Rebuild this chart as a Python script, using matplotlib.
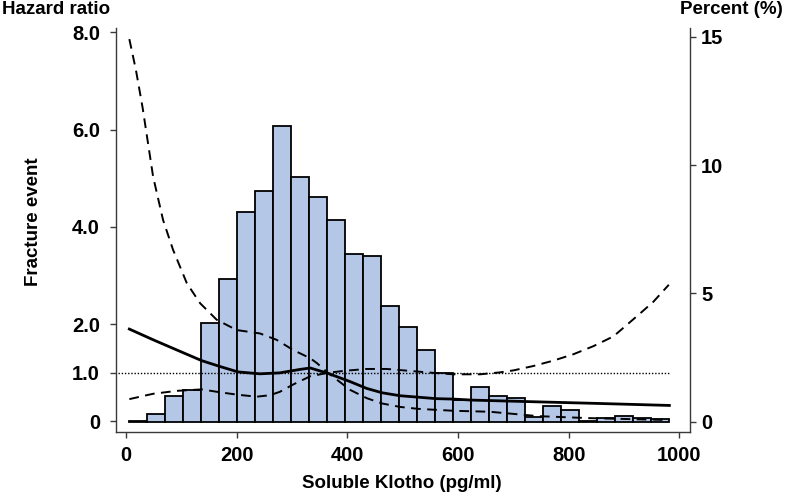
import numpy as np
import matplotlib
matplotlib.use("Agg")
import matplotlib.pyplot as plt

# --- histogram of soluble Klotho (percent per bin) ---
bin_lo, bin_hi, n_bins = 6.0, 981.4, 30
pct = [0.04, 0.29, 1.01, 1.23, 3.86, 5.55, 8.17, 9.00, 11.52, 9.54,
       8.74, 7.85, 6.53, 6.47, 4.50, 3.69, 2.80, 1.90, 0.85, 1.34,
       1.01, 0.93, 0.20, 0.60, 0.46, 0.04, 0.16, 0.21, 0.13, 0.12]

# --- hazard ratio spline (solid) ---
hr_x = [6, 49, 98, 137, 170, 202, 242, 278, 314, 333, 365, 405, 435, 463,
        495, 528, 560, 593, 625, 658, 723, 857, 982]
hr_y = [1.90, 1.68, 1.44, 1.25, 1.13, 1.02, 0.98, 1.00, 1.07, 1.10, 0.99,
        0.82, 0.68, 0.59, 0.53, 0.50, 0.47, 0.46, 0.44, 0.43, 0.41, 0.37, 0.33]

# --- 95% CI curve that starts high (dashed) ---
ci_a_x = [6, 18, 30, 49, 67, 85, 110, 134, 164, 200, 242, 272, 302, 333, 345,
          365, 405, 435, 463, 495, 528, 560, 593, 658, 745, 835, 981]
ci_a_y = [7.86, 7.22, 6.45, 5.03, 4.14, 3.53, 2.84, 2.43, 2.09, 1.88, 1.81,
          1.68, 1.47, 1.30, 1.20, 1.00, 0.65, 0.48, 0.37, 0.30, 0.26, 0.24,
          0.22, 0.20, 0.11, 0.07, 0.03]

# --- 95% CI curve that starts low (dashed) ---
ci_b_x = [6, 49, 92, 137, 170, 202, 236, 260, 278, 302, 333, 365, 393, 435,
          471, 513, 555, 592, 640, 676, 700, 736, 772, 808, 845, 881, 929,
          953, 981]
ci_b_y = [0.46, 0.57, 0.63, 0.66, 0.60, 0.55, 0.51, 0.54, 0.61, 0.76, 0.93,
          1.00, 1.04, 1.08, 1.08, 1.04, 1.00, 0.97, 0.97, 1.01, 1.05, 1.14,
          1.25, 1.38, 1.55, 1.75, 2.22, 2.46, 2.81]

ref_hr = 1.0
ref_span = [-14, 981]

plt.rcParams['font.family'] = ['Liberation Sans', 'DejaVu Sans']
plt.rcParams['font.weight'] = 'bold'
fs_tick = 14.5
fs_lab = 13.5
spine_col = '#3a3a3a'

fig = plt.figure(figsize=(7.85, 4.97), dpi=100)
W, H = 785, 497
left, right, top, bottom = 116, 690, 28.5, 432.3
ax = fig.add_axes([left / W, 1 - bottom / H, (right - left) / W, (bottom - top) / H])

# histogram on the percent axis (drawn on the right)
edges = np.linspace(bin_lo, bin_hi, n_bins + 1)
ax.bar(edges[:-1], pct, width=np.diff(edges), align='edge', color='#B4C7E7',
       edgecolor='black', linewidth=1.3, zorder=1)
ax.set_xlim(-18.1, 1019.3)
ax.set_ylim(-0.413, 15.32)
ax.set_xticks([0, 200, 400, 600, 800, 1000])
ax.spines['top'].set_visible(False)
for s in ['left', 'right', 'bottom']:
    ax.spines[s].set_color(spine_col)
    ax.spines[s].set_linewidth(1.0)

# hazard ratio curves on the left axis
ax2 = ax.twinx()
ax2.yaxis.tick_left()
ax.yaxis.tick_right()
ax.set_yticks([0, 5, 10, 15])
ax.tick_params(axis='y', direction='out', length=4.5, width=1.0, color=spine_col,
               labelsize=fs_tick, pad=3.5)
ax.tick_params(axis='x', direction='out', length=4.5, width=1.0, color=spine_col,
               labelsize=fs_tick, pad=5.5)

ax2.set_ylim(-0.222, 8.078)
ax2.set_yticks([0, 1, 2, 4, 6, 8])
ax2.set_yticklabels(['0', '1.0', '2.0', '4.0', '6.0', '8.0'])
for s in ax2.spines.values():
    s.set_visible(False)
ax2.tick_params(axis='y', direction='out', length=4.5, width=1.0, color=spine_col,
                labelsize=fs_tick, pad=7)

ax2.plot(ref_span, [ref_hr, ref_hr], color='black', lw=1.0, ls=(0, (1, 1.3)))
ax2.plot(ci_a_x, ci_a_y, color='black', lw=1.4, ls=(0, (5, 3.3)))
ax2.plot(ci_b_x, ci_b_y, color='black', lw=1.4, ls=(0, (5, 3.3)))
ax2.plot(hr_x, hr_y, color='black', lw=2.0)

for t in ax.get_xticklabels() + ax.get_yticklabels() + ax2.get_yticklabels():
    t.set_fontweight('bold')

fig.text(2 / W, 1 - 10 / H, 'Hazard ratio', fontsize=fs_lab, fontweight='bold',
         ha='left', va='center')
fig.text(783 / W, 1 - 10 / H, 'Percent (%)', fontsize=fs_lab, fontweight='bold',
         ha='right', va='center')
fig.text(33 / W, 1 - 222 / H, 'Fracture event', fontsize=fs_lab, fontweight='bold',
         rotation=90, ha='center', va='center')
fig.text(402 / W, 1 - 484 / H, 'Soluble Klotho (pg/ml)', fontsize=fs_lab,
         fontweight='bold', ha='center', va='center')

fig.savefig('out.png', dpi=100)
